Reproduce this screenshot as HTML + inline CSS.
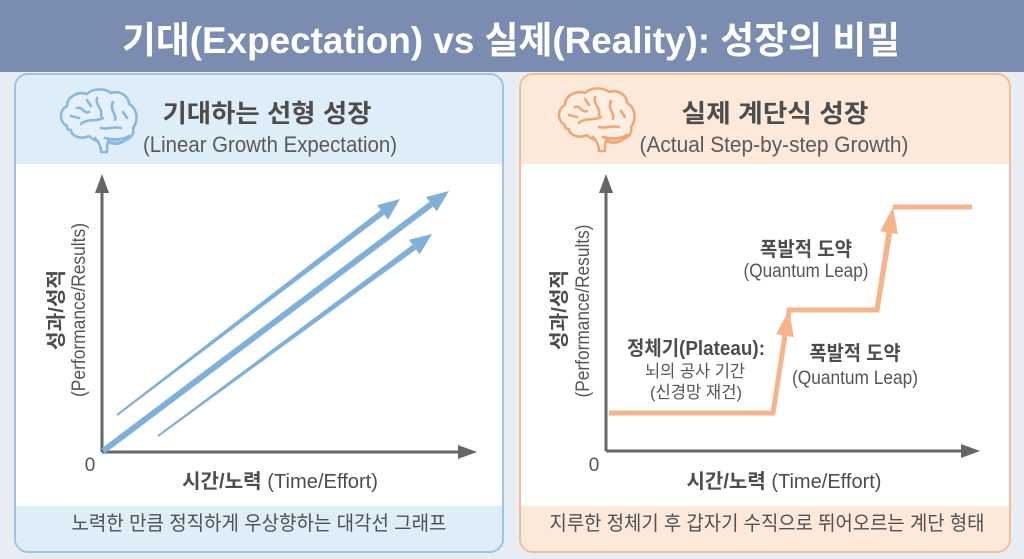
<!DOCTYPE html>
<html><head><meta charset="utf-8"><style>
html,body{margin:0;padding:0;background:#e8edf3;}
svg{display:block;}
text{font-family:"Liberation Sans","Noto Sans CJK KR",sans-serif;}
</style></head><body>
<svg width="1024" height="559" viewBox="0 0 1024 559" xmlns="http://www.w3.org/2000/svg">
<rect x="0" y="0" width="1024" height="559" fill="#e8edf3"/>
<!-- header -->
<rect x="0" y="0" width="1024" height="72" fill="#7a8db0"/>
<text x="511" y="53" font-size="37" font-weight="bold" fill="#ffffff" text-anchor="middle" textLength="778" lengthAdjust="spacingAndGlyphs">기대(Expectation) vs 실제(Reality): 성장의 비밀</text>

<!-- left panel -->
<rect x="15" y="74" width="488" height="478" rx="13" fill="#ddeef9" stroke="#9fc5e2" stroke-width="2"/>
<rect x="16" y="164" width="486" height="342" fill="#ffffff"/>
<!-- right panel -->
<rect x="520" y="74" width="490" height="478" rx="13" fill="#fde9da" stroke="#f0bf9a" stroke-width="2"/>
<rect x="521" y="164" width="488" height="342" fill="#ffffff"/>

<!-- brain left -->
<g transform="translate(57,88)" fill="none" stroke="#88b9de" stroke-width="2.6" stroke-linecap="round" stroke-linejoin="round">
<path d="M10,38 C2,34 2,22 10,18 C10,8 22,3 30,6 C36,0 48,0 54,5 C62,2 72,8 72,16 C80,20 82,32 76,40 C78,48 70,54 62,52 L46,52 C40,54 36,52 32,48 C24,52 14,48 14,42 C10,42 10,40 10,38 Z" fill="#e4f1fa"/>
<path d="M48,50 C52,58 66,58 72,48 C66,52 56,52 48,50 Z" fill="#a9cde9"/>
<path d="M38,50 C42,54 44,58 44,64 L50,64 C50,58 50,54 52,52" fill="#e4f1fa"/>
<path d="M20,20 C26,18 26,26 32,24"/>
<path d="M40,10 C38,18 46,20 44,28"/>
<path d="M56,14 C52,22 60,26 58,32"/>
<path d="M24,36 C30,30 40,34 46,30"/>
<path d="M64,40 C56,38 50,42 44,40"/>
<path d="M14,28 L22,30"/>
<path d="M30,12 L34,18"/>
<path d="M66,24 L70,30"/>
</g>
<!-- brain right -->
<g transform="translate(555,87)" fill="none" stroke="#eda878" stroke-width="2.6" stroke-linecap="round" stroke-linejoin="round">
<path d="M10,38 C2,34 2,22 10,18 C10,8 22,3 30,6 C36,0 48,0 54,5 C62,2 72,8 72,16 C80,20 82,32 76,40 C78,48 70,54 62,52 L46,52 C40,54 36,52 32,48 C24,52 14,48 14,42 C10,42 10,40 10,38 Z" fill="#fdeee2"/>
<path d="M48,50 C52,58 66,58 72,48 C66,52 56,52 48,50 Z" fill="#f4be96"/>
<path d="M38,50 C42,54 44,58 44,64 L50,64 C50,58 50,54 52,52" fill="#fdeee2"/>
<path d="M20,20 C26,18 26,26 32,24"/>
<path d="M40,10 C38,18 46,20 44,28"/>
<path d="M56,14 C52,22 60,26 58,32"/>
<path d="M24,36 C30,30 40,34 46,30"/>
<path d="M64,40 C56,38 50,42 44,40"/>
<path d="M14,28 L22,30"/>
<path d="M30,12 L34,18"/>
<path d="M66,24 L70,30"/>
</g>

<!-- panel titles -->
<text x="267" y="122" font-size="25" font-weight="bold" fill="#4d4d4d" text-anchor="middle" textLength="209" lengthAdjust="spacingAndGlyphs">기대하는 선형 성장</text>
<text x="270" y="152" font-size="22" fill="#5a5a5a" text-anchor="middle" textLength="254" lengthAdjust="spacingAndGlyphs">(Linear Growth Expectation)</text>
<text x="775" y="122" font-size="25" font-weight="bold" fill="#4d4d4d" text-anchor="middle" textLength="187" lengthAdjust="spacingAndGlyphs">실제 계단식 성장</text>
<text x="774" y="152" font-size="22" fill="#5a5a5a" text-anchor="middle" textLength="269" lengthAdjust="spacingAndGlyphs">(Actual Step-by-step Growth)</text>

<!-- axes -->
<g stroke="#666" stroke-width="3" fill="none">
<path d="M102,452 L102,190"/>
<path d="M102,452 L462,452"/>
<path d="M606,451 L606,190"/>
<path d="M606,451 L965,451"/>
</g>
<g fill="#666">
<polygon points="102,174 95,193 109,193"/>
<polygon points="477,452 458,445 458,459"/>
<polygon points="606,174 599,193 613,193"/>
<polygon points="980,451 961,444 961,458"/>
</g>

<!-- left blue arrows -->
<g fill="#7fb0d8">
<polygon points="117.6,415.8 384.3,214.8 380.7,210.0 116.4,414.2"/>
<polygon points="400,199 388.0,219.6 377.0,205.2"/>
<polygon points="104.8,453.4 433.2,206.6 429.6,201.8 101.2,448.6"/>
<polygon points="449,191 436.8,211.4 426.0,197.0"/>
<polygon points="158.6,436.8 416.1,249.5 412.5,244.7 157.4,435.2"/>
<polygon points="432,234 419.6,254.4 408.9,239.8"/>
</g>

<!-- right step line -->
<path d="M609,413 L773,413 L787,322 M789,310 L877,310 L891,219 M893,207 L972,207" fill="none" stroke="#f5b48a" stroke-width="5" stroke-linejoin="miter"/>
<path d="M787,330 L789,310 L877,310 L891,225" fill="none" stroke="#f5b48a" stroke-width="5"/>
<g fill="#f5b48a">
<polygon points="789,310 793.9,337.1 776.1,334.3"/>
<polygon points="893,207 897.9,234.1 880.1,231.3"/>
</g>

<!-- zero labels -->
<text x="90" y="471" font-size="19" fill="#555" text-anchor="middle">0</text>
<text x="594" y="471" font-size="19" fill="#555" text-anchor="middle">0</text>

<!-- x-axis labels -->
<text x="280" y="488" font-size="20" fill="#4d4d4d" text-anchor="middle" textLength="196" lengthAdjust="spacingAndGlyphs"><tspan font-weight="bold">시간/노력</tspan> (Time/Effort)</text>
<text x="784" y="488" font-size="20" fill="#4d4d4d" text-anchor="middle" textLength="195" lengthAdjust="spacingAndGlyphs"><tspan font-weight="bold">시간/노력</tspan> (Time/Effort)</text>

<!-- y-axis labels -->
<text transform="translate(63,310) rotate(-90)" font-size="20" font-weight="bold" fill="#4d4d4d" text-anchor="middle" textLength="80" lengthAdjust="spacingAndGlyphs">성과/성적</text>
<text transform="translate(85,310) rotate(-90)" font-size="19" fill="#555" text-anchor="middle" textLength="174" lengthAdjust="spacingAndGlyphs">(Performance/Results)</text>
<text transform="translate(566,310) rotate(-90)" font-size="20" font-weight="bold" fill="#4d4d4d" text-anchor="middle" textLength="80" lengthAdjust="spacingAndGlyphs">성과/성적</text>
<text transform="translate(589,311) rotate(-90)" font-size="19" fill="#555" text-anchor="middle" textLength="173" lengthAdjust="spacingAndGlyphs">(Performance/Results)</text>

<!-- right chart annotations -->
<text x="806" y="256" font-size="20" font-weight="bold" fill="#4d4d4d" text-anchor="middle" textLength="92" lengthAdjust="spacingAndGlyphs">폭발적 도약</text>
<text x="806" y="277" font-size="19" fill="#555" text-anchor="middle" textLength="125" lengthAdjust="spacingAndGlyphs">(Quantum Leap)</text>
<text x="696" y="355" font-size="20" font-weight="bold" fill="#4d4d4d" text-anchor="middle" textLength="138" lengthAdjust="spacingAndGlyphs">정체기(Plateau):</text>
<text x="695" y="377" font-size="17" fill="#555" text-anchor="middle" textLength="100" lengthAdjust="spacingAndGlyphs">뇌의 공사 기간</text>
<text x="696" y="398" font-size="17" fill="#555" text-anchor="middle" textLength="92" lengthAdjust="spacingAndGlyphs">(신경망 재건)</text>
<text x="855" y="360" font-size="20" font-weight="bold" fill="#4d4d4d" text-anchor="middle" textLength="91" lengthAdjust="spacingAndGlyphs">폭발적 도약</text>
<text x="855" y="384" font-size="19" fill="#555" text-anchor="middle" textLength="126" lengthAdjust="spacingAndGlyphs">(Quantum Leap)</text>

<!-- footers -->
<text x="259" y="530" font-size="20" fill="#505050" text-anchor="middle" textLength="375" lengthAdjust="spacingAndGlyphs">노력한 만큼 정직하게 우상향하는 대각선 그래프</text>
<text x="767" y="530" font-size="20" fill="#505050" text-anchor="middle" textLength="435" lengthAdjust="spacingAndGlyphs">지루한 정체기 후 갑자기 수직으로 뛰어오르는 계단 형태</text>
</svg>
</body></html>
